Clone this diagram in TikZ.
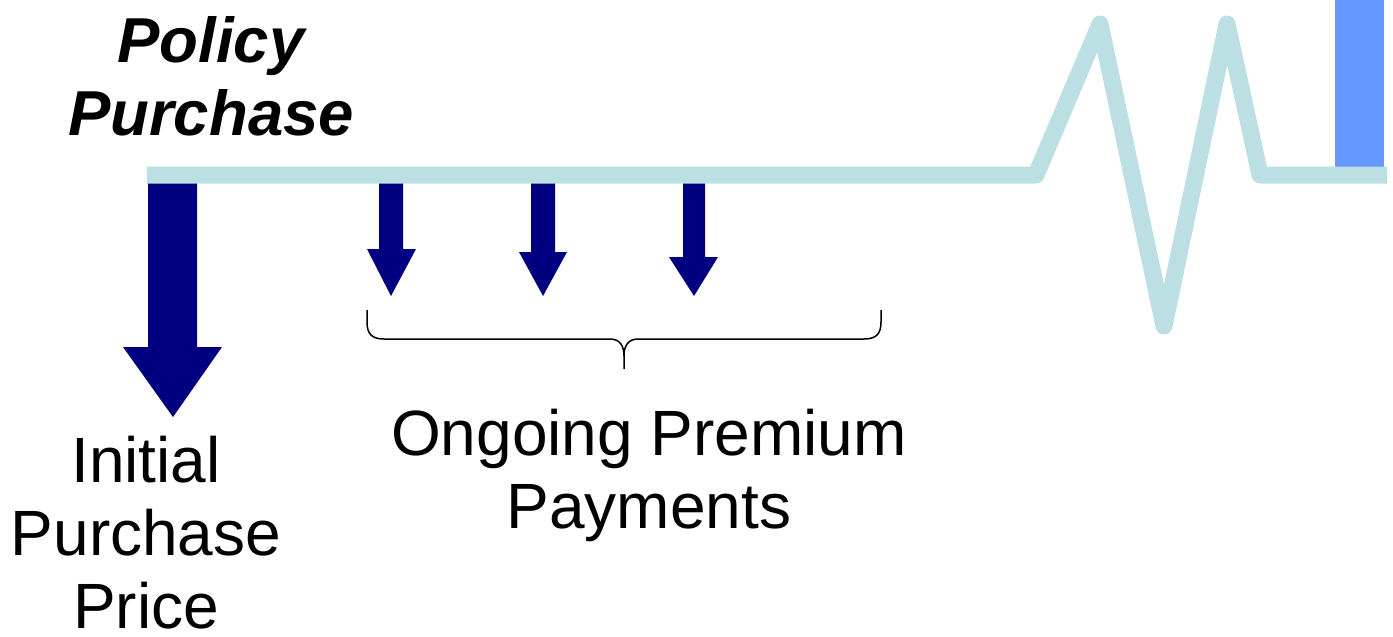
\documentclass[tikz,border=0pt]{standalone}
\usepackage{fontspec}
\setmainfont{Liberation Sans}
\definecolor{track}{HTML}{BBDFE3}
\definecolor{pay}{HTML}{000080}
\definecolor{maturity}{HTML}{6699FF}
\begin{document}
\begin{tikzpicture}[x=1pt,y=-1pt,
  payarrow/.style={fill=pay},
  caption/.style={align=center, font=\fontsize{64}{73}\selectfont, inner sep=0pt, anchor=base},
  timeline/.style={draw=track, line width=17pt, line join=round}]
\useasboundingbox (0,0) rectangle (1393,637);

% maturity bar at the far end of the timeline
\fill[maturity] (1335,0) rectangle (1384,176);

% initial purchase payment
\fill[payarrow] (148,176) -- (197,176) -- (197,347) -- (222,347) -- (173,417)
  -- (123,347) -- (148,347) -- cycle;

% ongoing premium payments
\fill[payarrow] (379,176) -- (403,176) -- (403,249) -- (416,249) -- (391,296)
  -- (367,249) -- (379,249) -- cycle;
\fill[payarrow] (531,176) -- (555,176) -- (555,252) -- (567,252) -- (543,296)
  -- (519,252) -- (531,252) -- cycle;
\fill[payarrow] (683,176) -- (705,176) -- (705,257) -- (718,257) -- (694,296)
  -- (669,257) -- (683,257) -- cycle;

% timeline with a break before maturity
\coordinate (t0) at (147,175);
\coordinate (k1) at (1036,175);
\coordinate (p1) at (1100,24);
\coordinate (v1) at (1164,326);
\coordinate (p2) at (1227,24);
\coordinate (k2) at (1260,175);
\coordinate (t1) at (1387,175);
\path[timeline] (t0) -- (k1) -- (p1) -- (v1) -- (p2) -- (k2) -- (t1);

% brace grouping the premium payments
\coordinate (bl) at (367,310);
\coordinate (br) at (881,310);
\coordinate (bt) at (624,369);
\draw[line width=1.5pt] (bl) -- (367,322) .. controls (367,334) and (372,339) .. (384,339)
  -- (610,339) .. controls (620,339) and (624,346) .. (624,356) -- (bt);
\draw[line width=1.5pt] (624,356) .. controls (624,346) and (628,339) .. (638,339)
  -- (864,339) .. controls (876,339) and (881,334) .. (881,322) -- (br);

% labels (anchored at the baseline of their last line)
\node[caption, font=\fontsize{63.5}{73}\selectfont\bfseries\itshape] (buy) at (211,135) {Policy\\Purchase};
\node[caption] (init) at (146,628) {Initial\\Purchase\\Price};
\node[caption] (prem) at (649,528) {Ongoing Premium\\Payments};
\end{tikzpicture}
\end{document}
